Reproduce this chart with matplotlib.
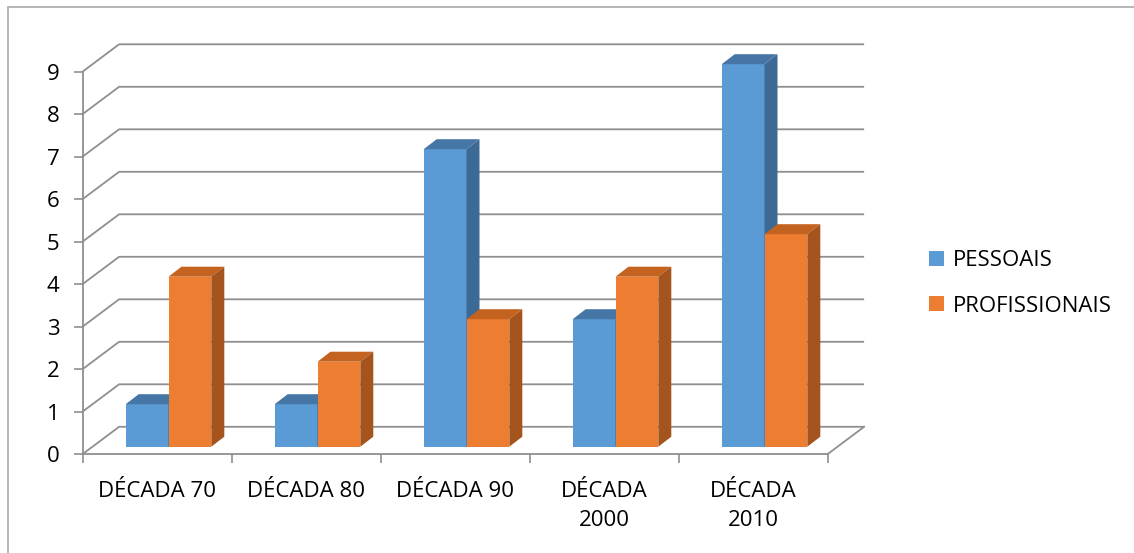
import matplotlib
matplotlib.use("Agg")
import matplotlib.pyplot as plt
from matplotlib.patches import Polygon, Patch, Rectangle

plt.rcParams['font.family'] = ['Open Sans', 'DejaVu Sans']

categories = ["DÉCADA 70", "DÉCADA 80", "DÉCADA 90", "DÉCADA\n2000", "DÉCADA\n2010"]
series_names = ["PESSOAIS", "PROFISSIONAIS"]
pessoais = [1, 1, 7, 3, 9]
profissionais = [4, 2, 3, 4, 5]
y_ticks = list(range(0, 10))

# colours: front, top, side
colors = {
    "PESSOAIS": ("#5b9bd5", "#4676a6", "#3d6a95"),
    "PROFISSIONAIS": ("#ed7d31", "#c4621f", "#a4541c"),
}

W, H, DPI = 1134, 553, 100
fig = plt.figure(figsize=(W / DPI, H / DPI), dpi=DPI)

# axes placed in pixels (left, right, y of 0, y of top)
ax_l, ax_r, ax_y0, ax_y1 = 82.5, 827.5, 454.2, 71.7
ax = fig.add_axes([ax_l / W, (H - ax_y0) / H, (ax_r - ax_l) / W, (ax_y0 - ax_y1) / H])
n = len(categories)
ymax = y_ticks[-1]
ax.set_xlim(0, n)
ax.set_ylim(0, ymax)

# pixel -> data helpers
px_x = n / (ax_r - ax_l)
px_y = ymax / (ax_y0 - ax_y1)


def off(dx, dy):
    return dx * px_x, dy * px_y


grid_c = "#8f8f8f"
wall_dx, wall_dy = off(36.6, 27.4)

# back wall gridlines with slanted side wall
for v in y_ticks:
    ax.plot([0, wall_dx, n + wall_dx], [v, v + wall_dy, v + wall_dy],
            color=grid_c, lw=1.3, zorder=1, clip_on=False, solid_capstyle='butt')
# floor right edge
ax.plot([n, n + wall_dx], [0, wall_dy], color=grid_c, lw=1.3, zorder=1, clip_on=False)

# bars
bw = 42.8 * px_x
shift_x, base = off(11.5, 7.5)
dep_x, dep_y = off(13, 10)

for i in range(n):
    center = i + 0.5 + shift_x
    for j, (name, vals) in enumerate(zip(series_names, [pessoais, profissionais])):
        front, top, side = colors[name]
        x0 = center - bw + j * bw
        x1 = x0 + bw
        v = vals[i]
        z = 3 + i * 2 + j
        ax.bar(x0, v, width=bw, bottom=base, align='edge', color=front,
               zorder=z, clip_on=False, linewidth=0)
        ax.add_patch(Polygon([(x0, base + v), (x0 + dep_x, base + v + dep_y),
                              (x1 + dep_x, base + v + dep_y), (x1, base + v)],
                             closed=True, facecolor=top, edgecolor='none',
                             zorder=z, clip_on=False))
        ax.add_patch(Polygon([(x1, base), (x1 + dep_x, base + dep_y),
                              (x1 + dep_x, base + v + dep_y), (x1, base + v)],
                             closed=True, facecolor=side, edgecolor='none',
                             zorder=z, clip_on=False))

# axes styling
for s in ["top", "right"]:
    ax.spines[s].set_visible(False)
for s in ["left", "bottom"]:
    ax.spines[s].set_color(grid_c)
    ax.spines[s].set_linewidth(1.3)
    ax.spines[s].set_zorder(2)

ax.set_yticks(y_ticks)
ax.set_yticklabels([str(t) for t in y_ticks])
ax.tick_params(axis='y', length=6.5, width=1.2, color=grid_c, labelsize=16, pad=10)

ax.set_xticks(range(n + 1))
ax.set_xticklabels([])
ax.set_xticks([i + 0.5 for i in range(n)], minor=True)
ax.set_xticklabels(categories, minor=True, linespacing=1.5)
ax.tick_params(axis='x', which='major', length=6.5, width=1.2, color=grid_c)
ax.tick_params(axis='x', which='minor', length=0, labelsize=16, pad=19.5)

# legend
handles = [Patch(facecolor=colors[s][0], edgecolor='none') for s in series_names]
fig.legend(handles, series_names, loc='center left',
           bbox_to_anchor=(929 / W, 1 - 283.3 / H), frameon=False,
           fontsize=16, borderpad=0, borderaxespad=0,
           handlelength=0.68, handleheight=0.68, handletextpad=0.4,
           labelspacing=1.1)

# chart border
fig.patches.append(Rectangle((8 / W, -0.1), 1.2, (H - 6.5) / H + 0.1,
                             transform=fig.transFigure, fill=False,
                             edgecolor="#a9a9a9", lw=1.2))

fig.savefig("out.png", dpi=DPI)
